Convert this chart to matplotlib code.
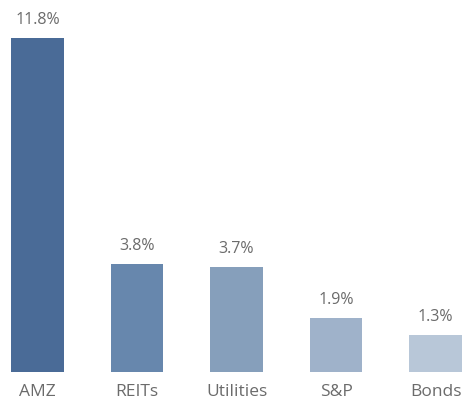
import matplotlib
matplotlib.use('Agg')
import matplotlib.pyplot as plt

categories = ['AMZ', 'REITs', 'Utilities', 'S&P', 'Bonds']
values = [11.8, 3.8, 3.7, 1.9, 1.3]
colors = ['#4a6b97', '#6787ad', '#869fbb', '#9fb2ca', '#b8c7d8']

TEXT_GREY = '#6b6b6b'

plt.rcParams['font.family'] = ['Open Sans', 'DejaVu Sans']

fig = plt.figure(figsize=(4.63, 4.02), dpi=100)
ax = fig.add_axes([0, 29 / 402, 1, 373 / 402])

x = list(range(len(categories)))
ax.bar(x, values, width=0.53, color=colors)

# percentage labels above the bars
for xi, v in zip(x, values):
    ax.annotate(f'{v}%', (xi, v), xytext=(0, 8), textcoords='offset points',
                ha='center', va='bottom', fontsize=11.5, color=TEXT_GREY)

ax.set_xlim(-0.377, 4.276)
ax.set_ylim(0, 13.18)
ax.set_xticks(x)
ax.set_xticklabels(categories, fontsize=12.5, color=TEXT_GREY)
ax.tick_params(axis='x', length=0, pad=8)
ax.set_yticks([])
for s in ax.spines.values():
    s.set_visible(False)

fig.savefig('out.png', dpi=100)
